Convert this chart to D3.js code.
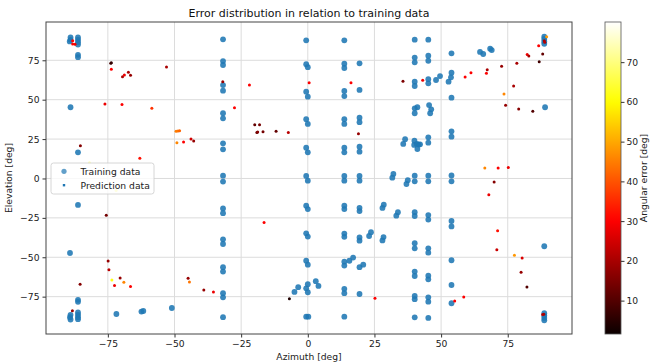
<!DOCTYPE html>
<html><head><meta charset="utf-8">
<script src="https://cdn.jsdelivr.net/npm/d3@7"></script>
<style>body{margin:0;background:#fff}svg{display:block;font-family:"DejaVu Sans",sans-serif}</style>
</head><body><svg id="c" width="652" height="364"></svg>
<script>
// ---- data ----
const xTicks = [-75, -50, -25, 0, 25, 50, 75];
const yTicks = [-75, -50, -25, 0, 25, 50, 75];
const colorTicks = [10, 20, 30, 40, 50, 60, 70];
const errorRange = [1.6, 80.1];

// training data: [azimuth, elevation]
const trainingData = [
  [-89,89.5],[-89,88],[-89.3,87],[-89,45.2],[-89.2,-47.3],[-89,-86.5],[-89.2,-88],[-89,-89.5],
  [-86.2,89.5],[-86.2,88],[-86.2,86.5],[-86.2,85],[-86.2,78.5],[-86.2,77],[-86.2,16.6],[-86.2,-16.8],
  [-86.2,-77],[-86.2,-78.3],[-86.2,-85],[-86.2,-86.5],[-86.2,-88],[-86.2,-89.3],
  [-71.8,-86],[-62.4,-84.5],[-61.7,-84.1],[-51,-82.2],
  [-31.8,88.3],[-31.8,74.5],[-31.8,72],[-31.8,59.3],[-31.8,55.7],[-31.8,41.4],[-31.8,38.2],
  [-31.8,22.3],[-31.8,18.5],[-31.8,1.8],[-31.8,-2],[-31.8,-19],[-31.8,-22],[-31.8,-38.6],[-31.8,-41.6],
  [-31.8,-56.3],[-31.8,-59.1],[-31.8,-72.8],[-31.8,-75.4],[-31.8,-88],
  [-0.6,87.7],[-0.6,72.5],[0,70.6],[-0.6,55.1],[0,51.9],[-0.6,37.6],[0,34.6],[-0.6,19.5],[0,16.6],
  [-0.6,1.6],[0,-1.4],[-0.6,-17.3],[0,-19.4],[-0.6,-34.8],[0,-36.9],[-0.6,-52.2],[0,-54.7],
  [0,-67.1],[-0.6,-69.7],[0,-72.2],[-0.6,-87.7],[0.2,-87.7],
  [-5,-72],[-3.6,-69],[3,-65.2],[4,-68.2],
  [13.7,87.7],[13.7,72.8],[13.7,70.1],[13.7,55.5],[13.7,52.3],[13.7,37.6],[13.7,34.6],[13.7,19.5],[13.7,16.6],
  [13.7,1.6],[13.7,-1.4],[13.7,-17.3],[13.7,-19.4],[13.7,-35],[13.7,-37],[13.7,-52.8],[13.7,-55.3],
  [13.7,-70],[13.7,-72.8],[13.7,-87.7],
  [15.6,-52.2],[17,-50.2],
  [19.4,73.1],[19.4,56.2],[19.4,38.6],[19.4,35.7],[19.4,20.2],[19.4,17],[19.4,1.6],[19.4,-1.4],
  [19.4,-18.6],[19.4,-20.7],[19.4,-37.4],[19.4,-39.5],[19.4,-56.3],[20.8,-54.7],[19.4,-73.3],
  [23,-36.5],[23.7,-34.1],[28,-18.7],[28.5,-16.6],[33.2,-23.6],[33.8,-21.4],[28,-39.3],[28.4,-37.2],
  [32.1,2.9],[31.7,0.5],[37.5,-1.1],[37,-3.5],[35.8,21.9],[36.5,24.9],
  [40.1,88.1],[40.1,76.7],[40.1,73.7],[40.1,61.4],[40.1,58.7],[40.1,44.5],[40.1,41.4],[41.1,45.2],
  [40,24],[39.9,21.3],[40.9,21.9],[41.6,21.5],[41.1,18.7],[40.1,1.8],[40.1,-1.8],
  [40.1,-21.4],[40.1,-23.8],[40.1,-41.1],[40.1,-44.3],[40.1,-59.1],[40.1,-61.9],[40.1,-74.6],[40.1,-76.6],[40.1,-88.1],
  [45.2,88.1],[45.2,77.9],[45.2,74.7],[45.2,63],[45.2,60.4],[45.5,46.6],[46.3,43.9],[45.9,41.4],
  [45.2,26.1],[45.2,22.7],[42.1,21.7],[45.2,1.8],[45.2,-1.8],[45.2,-23.2],[45.2,-26.1],[45.2,-44.3],[45.2,-47.1],
  [45.2,-61.7],[45.2,-64],[45.2,-75.4],[45.2,-78.2],[45.2,-88.5],
  [53.9,79.4],[53.9,67.1],[53.7,64.2],[52.8,61.4],[53.9,51.3],[53.9,29.9],[53.9,26.5],[53.9,1.9],[53.9,-1.8],
  [53.9,-27],[53.9,-30.4],[53.9,-51.9],[53.9,-67.6],[53.9,-79.2],
  [48.1,62.5],[49.6,65],[64.6,80.3],[65.8,79],[68.4,82.4],[69,81.5],
  [88.7,90],[88.7,88.5],[88.7,87],[88.7,85.5],[89,45.2],[88.7,-43],
  [88.7,-85.5],[88.7,-87],[88.7,-88.5],[88.7,-90]
];

// prediction data: [azimuth, elevation, angular error]
const predictionData = [
  [-88.2,87.4,30],[-88.2,85.3,30],[-87.3,85.2,28],[-73.9,73.1,8],[-73.7,73.5,6],[-73.7,69.3,30],
  [-69.5,64.6,20],[-68.8,65.7,28],[-67.3,67.4,20],[-66.5,65.5,18],[-53,70.7,20],
  [-76.1,47.3,28],[-69.7,47,30],[-58.5,44.5,36],[-49.4,30,45],[-48.7,30.1,44],[-48.1,30.3,42],
  [-49.1,22.7,46],[-46.6,23.2,30],[-43.8,25,25],[-42.8,23.8,18],[-31.9,61.4,18],[-27.5,44.9,30],
  [-85.3,20.8,16],[-81.9,10,75],[-63,12.8,32],[-71.9,-7.7,68],[-75.6,-23.4,14],
  [-74.9,-52.3,18],[-74.6,-58,22],[-73.5,-64.4,62],[-72.5,-68,28],[-70.4,-63.1,18],[-69,-65.9,46],
  [-66.5,-68.6,30],[-85.4,-67.1,16],[-88.3,-84,18],[-44.9,-63.3,18],[-44.4,-65.7,44],[-39,-70.7,18],[-35.4,-72,28],
  [-21.9,59.3,30],[0.5,60.8,30],[16.2,60.8,30],[35.7,61.7,15],[43.1,62.3,28],
  [-19.9,34.1,12],[-18.1,34.1,14],[-19.1,29.1,12],[-18.8,29.5,16],[-16.8,29.7,14],[-11.9,29.9,12],
  [-7.3,29.1,22],[19,28.4,18],[-16.4,-28,30],[-6.9,-76.3,4],[25.2,-76,30],
  [59,64.4,30],[61.2,67.1,30],[67.3,69,20],[67,66.7,30],[72.7,71.2,18],[78.4,73.1,20],
  [82.3,78.6,28],[82.9,77.7,20],[86.6,84.2,30],[88.1,79,12],[86.8,74.1,8],[89.6,90,48],
  [88.7,87.4,20],[88.9,86.5,22],[77.2,58.7,20],[73.6,53.6,46],[74.2,46.4,18],[79.1,44.1,16],[84.4,42.6,10],
  [66.4,6.7,46],[71.4,6.7,30],[75.2,6.9,28],[69.9,-2.2,16],[67.9,-10.3,28],[71.2,-33.1,32],
  [70.9,-45.2,24],[77.5,-48.8,48],[80.4,-50.4,26],[80,-59.5,18],[82.2,-68.8,10],
  [58.5,-75.2,30],[55.1,-77.7,30],[88.1,-86.4,24],[88.5,-86.2,20]
];

// ---- drawing ----
const svg = d3.select("#c");
const L = 46, R = 572, T = 22, B = 334;
const x = d3.scaleLinear([-98.2, 99.1], [L, R]);
const y = d3.scaleLinear([-98.7, 99.3], [B, T]);

function hot(t) {
  t = Math.max(0, Math.min(1, t));
  const r = t < 0.365079 ? 0.0416 + (1 - 0.0416) * t / 0.365079 : 1;
  const g = t < 0.365079 ? 0 : (t < 0.746032 ? (t - 0.365079) / (0.746032 - 0.365079) : 1);
  const b = t < 0.746032 ? 0 : (t - 0.746032) / (1 - 0.746032);
  return d3.rgb(r * 255, g * 255, b * 255).toString();
}
const cnorm = d3.scaleLinear(errorRange, [0, 1]);
const color = v => hot(cnorm(v));

// grid
const grid = svg.append("g");
grid.selectAll(".gx").data(xTicks).join("line")
  .attr("x1", d => x(d)).attr("x2", d => x(d)).attr("y1", T).attr("y2", B)
  .attr("stroke", "#dcdcdc").attr("stroke-width", 1);
grid.selectAll(".gy").data(yTicks).join("line")
  .attr("y1", d => y(d)).attr("y2", d => y(d)).attr("x1", L).attr("x2", R)
  .attr("stroke", "#dcdcdc").attr("stroke-width", 1);

// axes
const xAxis = svg.append("g").attr("transform", `translate(0,${B})`)
  .call(d3.axisBottom(x).tickValues(xTicks).tickSize(3.5).tickPadding(3));
const yAxis = svg.append("g").attr("transform", `translate(${L},0)`)
  .call(d3.axisLeft(y).tickValues(yTicks).tickSize(3.5).tickPadding(3));
[xAxis, yAxis].forEach(a => {
  a.select(".domain").remove();
  a.selectAll("line").attr("stroke", "#333");
  a.selectAll("text").attr("font-size", 9.2).attr("fill", "#222").attr("font-family", "DejaVu Sans");
});

// training points
svg.append("g").selectAll("circle").data(trainingData).join("circle")
  .attr("cx", d => x(d[0])).attr("cy", d => y(d[1])).attr("r", 2.9)
  .attr("fill", "#1f77b4").attr("fill-opacity", 0.88);

// prediction points
svg.append("g").selectAll("circle").data(predictionData).join("circle")
  .attr("cx", d => x(d[0])).attr("cy", d => y(d[1])).attr("r", 1.5)
  .attr("fill", d => color(d[2]));

// frame
svg.append("rect").attr("x", L).attr("y", T).attr("width", R - L).attr("height", B - T)
  .attr("fill", "none").attr("stroke", "#444").attr("stroke-width", 1);

// title & labels
svg.append("text").attr("x", (L + R) / 2).attr("y", 16.5).attr("text-anchor", "middle")
  .attr("font-size", 11).attr("fill", "#111").text("Error distribution in relation to training data");
svg.append("text").attr("x", (L + R) / 2).attr("y", 360).attr("text-anchor", "middle")
  .attr("font-size", 9.2).attr("fill", "#222").text("Azimuth [deg]");
svg.append("text").attr("transform", `translate(12,${(T + B) / 2}) rotate(-90)`).attr("text-anchor", "middle")
  .attr("font-size", 9.2).attr("fill", "#222").text("Elevation [deg]");

// legend
const lg = svg.append("g");
lg.append("rect").attr("x", 51).attr("y", 163).attr("width", 103).attr("height", 31).attr("rx", 2.5)
  .attr("fill", "#fff").attr("fill-opacity", 0.8).attr("stroke", "#ccc").attr("stroke-width", 0.8);
lg.append("circle").attr("cx", 64).attr("cy", 171.3).attr("r", 2.6).attr("fill", "#1f77b4").attr("fill-opacity", 0.7);
lg.append("rect").attr("x", 62.8).attr("y", 184).attr("width", 2.4).attr("height", 2.4).attr("fill", "#1f77b4");
lg.append("text").attr("x", 80.5).attr("y", 174.6).attr("font-size", 9.2).attr("fill", "#222").text("Training data");
lg.append("text").attr("x", 80.5).attr("y", 188.6).attr("font-size", 9.2).attr("fill", "#222").text("Prediction data");

// colorbar
const cbX = 605, cbW = 16;
const cy = d3.scaleLinear(errorRange, [B, T]);
const defs = svg.append("defs");
const grad = defs.append("linearGradient").attr("id", "hotgrad")
  .attr("x1", 0).attr("y1", 1).attr("x2", 0).attr("y2", 0);
d3.range(0, 1.0001, 0.02).forEach(t => {
  grad.append("stop").attr("offset", t).attr("stop-color", hot(t));
});
svg.append("rect").attr("x", cbX).attr("y", T).attr("width", cbW).attr("height", B - T)
  .attr("fill", "url(#hotgrad)").attr("stroke", "#555").attr("stroke-width", 0.8);
const cAxis = svg.append("g").attr("transform", `translate(${cbX + cbW},0)`)
  .call(d3.axisRight(cy).tickValues(colorTicks).tickSize(3.5).tickPadding(2));
cAxis.select(".domain").remove();
cAxis.selectAll("line").attr("stroke", "#333");
cAxis.selectAll("text").attr("font-size", 9.2).attr("fill", "#222").attr("font-family", "DejaVu Sans");
svg.append("text").attr("transform", `translate(647,${(T + B) / 2}) rotate(-90)`).attr("text-anchor", "middle")
  .attr("font-size", 9.2).attr("fill", "#222").text("Angular error [deg]");
</script>
</body></html>
